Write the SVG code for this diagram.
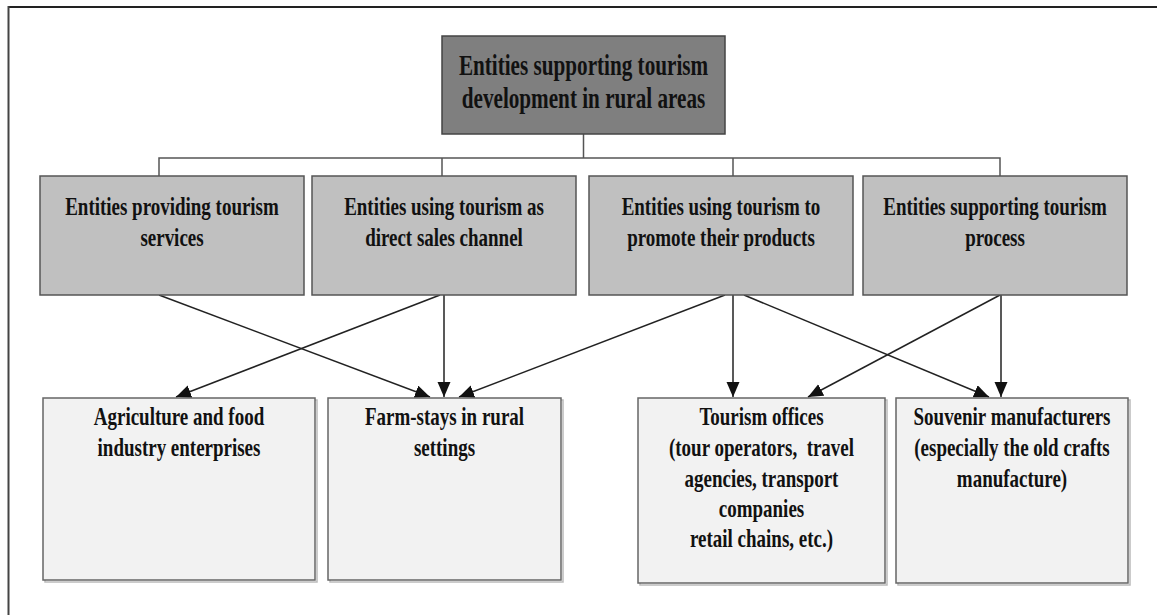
<svg xmlns="http://www.w3.org/2000/svg" width="1157" height="615" viewBox="0 0 1157 615">
<style>
text{font-family:"Liberation Serif","Times New Roman",serif;font-weight:bold;font-size:26px;fill:#111;text-anchor:middle}
.t29{font-size:29px}
.top{fill:#7f7f7f;stroke:#444;stroke-width:1.5}
.mid{fill:#c0c0c0;stroke:#555;stroke-width:1.5}
.bot{fill:#f2f2f2;stroke:#666;stroke-width:1.5}
.sh{fill:none;stroke:#bbb;stroke-width:1.5}
.tree{fill:none;stroke:#555;stroke-width:1.5}
.arr{fill:none;stroke:#222;stroke-width:1.5;marker-end:url(#ah)}
</style>
<defs>
<marker id="ah" markerUnits="userSpaceOnUse" markerWidth="16" markerHeight="14" refX="15" refY="6.5" orient="auto">
<path d="M0,0 L15,6.5 L0,13 z" fill="#111"/>
</marker>
</defs>
<rect width="1157" height="615" fill="#fff"/>
<g id="frame">
<line x1="8" y1="7" x2="1157" y2="7" stroke="#222" stroke-width="2"/>
<line x1="8.5" y1="6" x2="8.5" y2="615" stroke="#444" stroke-width="2"/>
</g>
<g id="connectors">
<path class="tree" d="M583.5,134 V158 M159,176 V158 H1000 V176 M442,158 V176 M733,158 V176"/>
<line class="arr" x1="159" y1="295" x2="430" y2="397"/>
<line class="arr" x1="440" y1="295" x2="176" y2="397"/>
<line class="arr" x1="444" y1="295" x2="444" y2="397"/>
<line class="arr" x1="725" y1="295" x2="459" y2="397"/>
<line class="arr" x1="733" y1="295" x2="733" y2="397"/>
<line class="arr" x1="744" y1="295" x2="989" y2="397"/>
<line class="arr" x1="1000" y1="295" x2="808" y2="397"/>
<line class="arr" x1="1001" y1="295" x2="1001" y2="397"/>
</g>
<g id="root">
<rect class="top" x="442" y="36" width="283" height="98"/>
<g transform="translate(583.5 0) scale(0.73 1)"><text class="t29"><tspan x="0" y="75">Entities supporting tourism</tspan><tspan x="0" y="108">development in rural areas</tspan></text></g>
</g>
<g id="n1">
<rect class="mid" x="40" y="176" width="264" height="119"/>
<g transform="translate(172 0) scale(0.73 1)"><text><tspan x="0" y="215">Entities providing tourism</tspan><tspan x="0" y="246">services</tspan></text></g>
</g>
<g id="n2">
<rect class="mid" x="312" y="176" width="264" height="119"/>
<g transform="translate(444 0) scale(0.73 1)"><text><tspan x="0" y="215">Entities using tourism as</tspan><tspan x="0" y="246">direct sales channel</tspan></text></g>
</g>
<g id="n3">
<rect class="mid" x="589" y="176" width="264" height="119"/>
<g transform="translate(721 0) scale(0.73 1)"><text><tspan x="0" y="215">Entities using tourism to</tspan><tspan x="0" y="246">promote their products</tspan></text></g>
</g>
<g id="n4">
<rect class="mid" x="863" y="176" width="264" height="119"/>
<g transform="translate(995 0) scale(0.73 1)"><text><tspan x="0" y="215">Entities supporting tourism</tspan><tspan x="0" y="246">process</tspan></text></g>
</g>
<g id="b1">
<rect class="sh" x="45" y="400" width="272" height="182"/>
<rect class="bot" x="43" y="398" width="272" height="182"/>
<g transform="translate(179 0) scale(0.73 1)"><text><tspan x="0" y="425">Agriculture and food</tspan><tspan x="0" y="456">industry enterprises</tspan></text></g>
</g>
<g id="b2">
<rect class="sh" x="330" y="400" width="233" height="182"/>
<rect class="bot" x="328" y="398" width="233" height="182"/>
<g transform="translate(444.5 0) scale(0.73 1)"><text><tspan x="0" y="425">Farm-stays in rural</tspan><tspan x="0" y="456">settings</tspan></text></g>
</g>
<g id="b3">
<rect class="sh" x="640" y="400" width="247" height="185"/>
<rect class="bot" x="638" y="398" width="247" height="185"/>
<g transform="translate(761.5 0) scale(0.73 1)"><text><tspan x="0" y="425">Tourism offices</tspan><tspan x="0" y="456" xml:space="preserve">(tour operators,  travel</tspan><tspan x="0" y="487">agencies, transport</tspan><tspan x="0" y="517">companies</tspan><tspan x="0" y="547">retail chains, etc.)</tspan></text></g>
</g>
<g id="b4">
<rect class="sh" x="898" y="400" width="232" height="185"/>
<rect class="bot" x="896" y="398" width="232" height="185"/>
<g transform="translate(1012 0) scale(0.73 1)"><text><tspan x="0" y="425">Souvenir manufacturers</tspan><tspan x="0" y="456">(especially the old crafts</tspan><tspan x="0" y="487">manufacture)</tspan></text></g>
</g>
</svg>
